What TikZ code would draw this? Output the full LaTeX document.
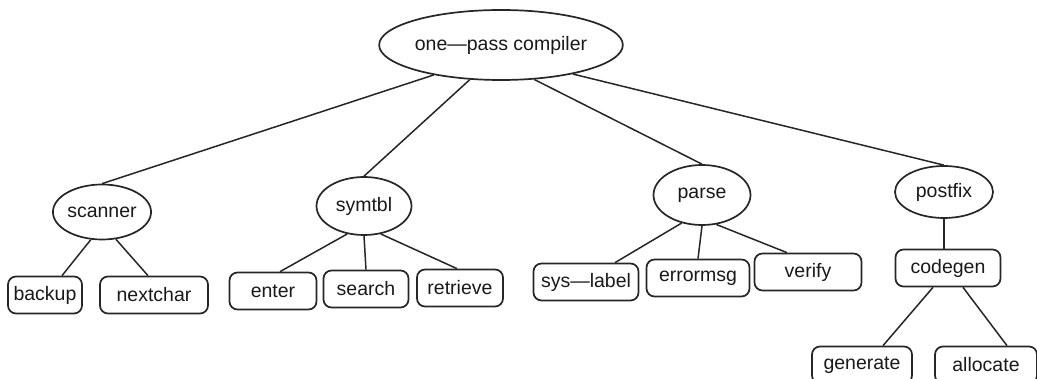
\documentclass[tikz,border=0pt]{standalone}
\usepackage{fontspec}
\setmainfont{Liberation Sans}
\usetikzlibrary{shapes.geometric}
\begin{document}
\begin{tikzpicture}[x=1pt,y=-1pt,
  every node/.style={font=\fontsize{19.5}{22}\selectfont, text=black!90},
  oval/.style={draw=black!85, line width=1.7pt, ellipse, inner sep=0pt},
  leaf/.style={draw=black!85, line width=1.7pt, rounded corners=8pt, minimum height=37pt, inner sep=0pt},
  link/.style={draw=black!85, line width=1.5pt}]
\useasboundingbox[fill=white] (0,0) rectangle (1037,379);
% ellipses
\node[oval, minimum width=222pt, minimum height=70pt] (root) at (501,45) {one---pass compiler};
\node[oval, minimum width=97pt, minimum height=55pt] (scanner) at (102,212) {scanner};
\node[oval, minimum width=95pt, minimum height=58pt] (symtbl) at (364,206) {symtbl};
\node[oval, minimum width=97pt, minimum height=60pt] (parse) at (702,195) {parse};
\node[oval, minimum width=98pt, minimum height=52pt] (postfix) at (944,192) {postfix};
% leaves
\node[leaf, minimum width=74pt] (backup) at (45,295) {backup};
\node[leaf, minimum width=108pt] (nextchar) at (154,295) {nextchar};
\node[leaf, minimum width=87pt] (enter) at (273,291) {enter};
\node[leaf, minimum width=85pt] (search) at (366,289) {search};
\node[leaf, minimum width=86pt] (retrieve) at (460,288) {retrieve};
\node[leaf, minimum width=105pt] (syslabel) at (586,282) {sys---label};
\node[leaf, minimum width=103pt] (errormsg) at (698,278) {errormsg};
\node[leaf, minimum width=107pt] (verify) at (808,272) {verify};
\node[leaf, minimum width=105pt] (codegen) at (948,268) {codegen};
\node[leaf, minimum width=100pt] (generate) at (862,365) {generate};
\node[leaf, minimum width=102pt] (allocate) at (986,365) {allocate};
% connectors
\draw[link] (root.204.9) -- (scanner.north);
\draw[link] (root.228) -- (symtbl.north);
\draw[link] (root.314) -- (parse.north);
\draw[link] (root.338.6) -- (postfix.north);
\draw[link] (scanner.248) -- ([xshift=17pt]backup.north);
\draw[link] (scanner.297) -- ([xshift=-6pt]nextchar.north);
\draw[link] (symtbl.239) -- ([xshift=7pt]enter.north);
\draw[link] (symtbl.south) -- (search.north);
\draw[link] (symtbl.301) -- ([xshift=-3pt]retrieve.north);
\draw[link] (parse.234.6) -- ([xshift=29pt]syslabel.north);
\draw[link] (parse.south) -- (errormsg.north);
\draw[link] (parse.296) -- ([xshift=-21pt]verify.north);
\draw[link] (postfix.south) -- (postfix.south |- codegen.north);
\draw[link] ([xshift=-15pt]codegen.south) -- ([xshift=21pt]generate.north);
\draw[link] ([xshift=15pt]codegen.south) -- ([xshift=21pt]allocate.north);
\end{tikzpicture}
\end{document}
